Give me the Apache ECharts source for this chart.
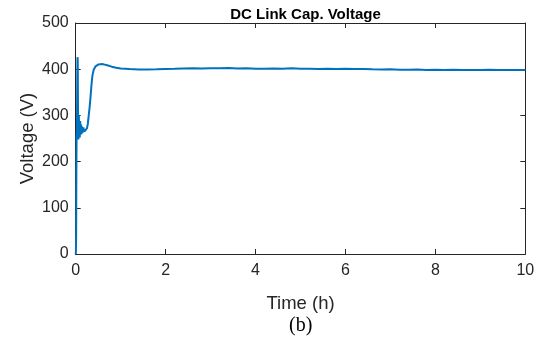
<!DOCTYPE html>
<html>
<head>
<meta charset="utf-8">
<script src="https://cdn.jsdelivr.net/npm/echarts@6/dist/echarts.min.js"></script>
<style>html,body{margin:0;padding:0;background:#fff;}#c{width:547px;height:340px;}</style>
</head>
<body>
<div id="c"></div>
<script>
const titleText = "DC Link Cap. Voltage";
const xName = "Time (h)";
const yName = "Voltage (V)";
const caption = "(b)";
const xTicks = [0, 2, 4, 6, 8, 10];
const yTicks = [0, 100, 200, 300, 400, 500];
const timeH = [0, 0.005, 0.01, 0.015, 0.02, 0.025, 0.03, 0.035, 0.04, 0.045, 0.05, 0.055, 0.06, 0.07, 0.08, 0.09, 0.10, 0.11, 0.12, 0.13, 0.14, 0.15, 0.17, 0.19, 0.21, 0.23, 0.25, 0.27, 0.29, 0.31, 0.33, 0.35, 0.37, 0.40, 0.44, 0.50, 0.56, 0.62, 0.70, 0.80, 0.90,
  1.0, 1.2, 1.4, 1.6, 1.8, 2.0, 2.2, 2.4, 2.6, 2.8, 3.0, 3.2, 3.4, 3.6, 3.8, 4.0, 4.2, 4.4, 4.6, 4.8, 5.0, 5.2, 5.4, 5.6, 5.8, 6.0, 6.2, 6.4, 6.6, 6.8, 7.0, 7.2, 7.4, 7.6, 7.8, 8.0, 8.2, 8.4, 8.6, 8.8, 9.0, 9.2, 9.4, 9.6, 9.8, 10.0];
const voltageV = [0, 5, 40, 180, 260, 250, 300, 380, 426, 420, 330, 260, 248, 300, 265, 252, 288, 258, 280, 260, 276, 262, 274, 265, 268, 266, 272, 282, 300, 318, 340, 365, 385, 399, 406, 410, 411, 410.5, 408.5, 405.5, 403,
  401.5, 400.2, 399.6, 399.5, 399.8, 400.4, 400.8, 401.5, 402.0, 401.6, 402.2, 401.8, 402.4, 401.5, 402.0, 401.2, 400.8, 401.6, 401.0, 401.8, 401.2, 401.0, 400.6, 401.0, 400.4, 400.8, 400.2, 400.5, 400.0, 399.6, 399.8, 399.0, 398.6, 399.2, 398.4, 398.6, 398.4, 398.6, 398.2, 398.5, 398.3, 398.6, 398.2, 398.4, 398.0, 398.2];

const seriesData = timeH.map((t, i) => [t, voltageV[i]]);
const axisColor = '#262626';
const font = 'Liberation Sans, Arial, sans-serif';

const chart = echarts.init(document.getElementById('c'), null, {renderer: 'canvas'});
const baseX = {
  type: 'value', min: xTicks[0], max: xTicks[xTicks.length - 1], interval: 2,
  axisLine: {show: true, onZero: false, lineStyle: {color: axisColor, width: 1}},
  axisTick: {show: true, inside: true, length: 5, lineStyle: {color: axisColor}},
  splitLine: {show: false}
};
const baseY = {
  type: 'value', min: yTicks[0], max: yTicks[yTicks.length - 1], interval: 100,
  axisLine: {show: true, onZero: false, lineStyle: {color: axisColor, width: 1}},
  axisTick: {show: true, inside: true, length: 5, lineStyle: {color: axisColor}},
  splitLine: {show: false}
};
chart.setOption({
  animation: false,
  backgroundColor: '#fff',
  title: {
    text: titleText, left: 300.5, textAlign: 'center', top: 2,
    textStyle: {fontFamily: font, fontSize: 15, fontWeight: 'bold', color: '#000'}
  },
  grid: {left: 75.7, right: 21.7, top: 23, bottom: 86, containLabel: false},
  xAxis: [
    Object.assign({}, baseX, {
      position: 'bottom', name: xName, nameLocation: 'middle', nameGap: 40, nameMoveOverlap: false,
      nameTextStyle: {fontFamily: font, fontSize: 18.5, color: axisColor},
      axisLabel: {show: true, margin: 9, fontFamily: font, fontSize: 16, color: axisColor}
    }),
    Object.assign({}, baseX, {position: 'top', axisLabel: {show: false}})
  ],
  yAxis: [
    Object.assign({}, baseY, {
      position: 'left', name: yName, nameLocation: 'middle', nameGap: 38, nameMoveOverlap: false,
      nameTextStyle: {fontFamily: font, fontSize: 18.5, color: axisColor},
      axisLabel: {show: true, margin: 7, fontFamily: font, fontSize: 16, color: axisColor}
    }),
    Object.assign({}, baseY, {position: 'right', axisLabel: {show: false}})
  ],
  graphic: [{
    type: 'text', left: 289, top: 316,
    style: {text: caption, font: '20px "Liberation Serif", "Times New Roman", serif', fill: '#000'}
  }],
  series: [{
    type: 'line', xAxisIndex: 0, yAxisIndex: 0, data: seriesData,
    showSymbol: false, symbol: 'none',
    lineStyle: {color: '#0072BD', width: 2}
  }]
});
</script>
</body>
</html>
